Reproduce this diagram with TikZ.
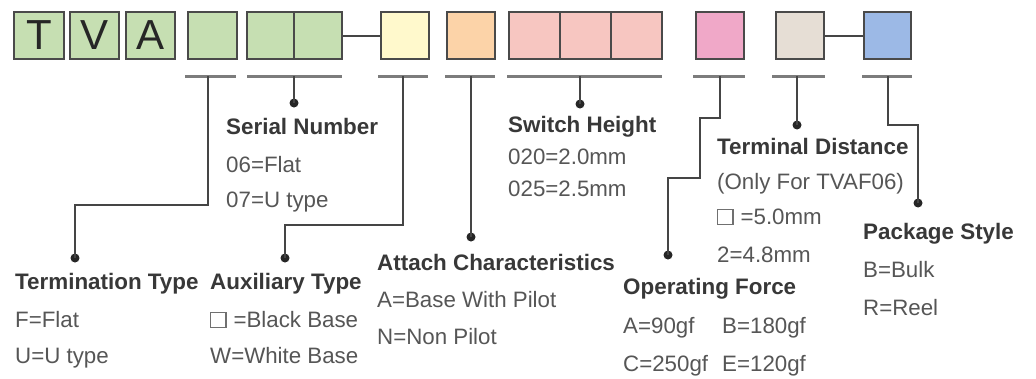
\documentclass[tikz,border=0pt]{standalone}
\usepackage{fontspec}
\setmainfont{Liberation Sans}
\definecolor{cgreen}{HTML}{C6DFB2}
\definecolor{cyellow}{HTML}{FFF9CC}
\definecolor{corange}{HTML}{FCD3A8}
\definecolor{cpink}{HTML}{F7C6C1}
\definecolor{cmagenta}{HTML}{F0A8C8}
\definecolor{cbeige}{HTML}{E6DED5}
\definecolor{cblue}{HTML}{9CB9E6}
\definecolor{edgec}{HTML}{4A4A4A}
\definecolor{barc}{HTML}{7C7C7C}
\definecolor{linec}{HTML}{454545}
\definecolor{headc}{HTML}{383838}
\definecolor{bodyc}{HTML}{565656}
\definecolor{sqgray}{HTML}{707070}
\newcommand\sqbox{\textcolor{sqgray}{\fboxsep=0pt\fboxrule=1.2pt\fbox{\rule{0pt}{14pt}\hspace{14pt}}}}
\tikzset{
  box/.style={draw=edgec, line width=2pt, minimum height=47pt, inner sep=0pt,
    font=\fontsize{42}{44}\selectfont, text=black!85},
  bar/.style={draw=barc, line width=3pt},
  conn/.style={draw=linec, line width=2pt},
  dotc/.style={circle, fill=black!85, minimum size=9pt, inner sep=0pt},
  head/.style={anchor=base west, inner sep=0pt, text=headc, font=\fontsize{22.4}{25}\selectfont\bfseries},
  body/.style={anchor=base west, inner sep=0pt, text=bodyc, font=\fontsize{22.3}{25}\selectfont},
}
\begin{document}
\begin{tikzpicture}[x=1pt, y=-1pt]
\useasboundingbox[fill=white] (0,0) rectangle (1036,378);
% code boxes
\node[box, fill=cgreen, minimum width=50pt] (b1) at (39,35.5) {T};
\node[box, fill=cgreen, minimum width=49pt] (b2) at (94.5,35.5) {V};
\node[box, fill=cgreen, minimum width=49pt] (b3) at (150.5,35.5) {A};
\node[box, fill=cgreen, minimum width=49pt] (b4) at (212.5,35.5) {};
\node[box, fill=cgreen, minimum width=47pt] (b5a) at (270.5,35.5) {};
\node[box, fill=cgreen, minimum width=48pt] (b5b) at (318,35.5) {};
\node[box, fill=cyellow, minimum width=48pt] (b6) at (405,35.5) {};
\node[box, fill=corange, minimum width=48pt] (b7) at (471,35.5) {};
\node[box, fill=cpink, minimum width=51pt] (b8a) at (534.5,35.5) {};
\node[box, fill=cpink, minimum width=51pt] (b8b) at (585.5,35.5) {};
\node[box, fill=cpink, minimum width=51pt] (b8c) at (636.5,35.5) {};
\node[box, fill=cmagenta, minimum width=48pt] (b9) at (720,35.5) {};
\node[box, fill=cbeige, minimum width=48pt] (b10) at (800,35.5) {};
\node[box, fill=cblue, minimum width=47pt] (b11) at (887.5,35.5) {};
\draw[conn] (b5b.east) -- (b6.west);
\draw[conn] (b10.east) -- (b11.west);
% bars
\draw[bar] (185,76) -- (236,76);
\draw[bar] (247,76) -- (342,76);
\draw[bar] (378,76) -- (428,76);
\draw[bar] (445,76) -- (495,76);
\draw[bar] (507,76) -- (662,76);
\draw[bar] (693,76) -- (745,76);
\draw[bar] (772,76) -- (825,76);
\draw[bar] (862,76) -- (912,76);
% tick points
\coordinate (t4) at (208,76);
\coordinate (t5) at (294,76);
\coordinate (t6) at (403,76);
\coordinate (t7) at (471,76);
\coordinate (t8) at (580,76);
\coordinate (t9) at (720,76);
\coordinate (t10) at (797,76);
\coordinate (t11) at (888,76);
% dots
\node[dotc] (d4) at (75,258) {};
\node[dotc] (d5) at (294,103) {};
\node[dotc] (d6) at (285,258) {};
\node[dotc] (d7) at (471,237) {};
\node[dotc] (d8) at (580,104) {};
\node[dotc] (d9) at (668,255) {};
\node[dotc] (d10) at (797,125) {};
\node[dotc] (d11) at (918,203) {};
% connectors
\draw[conn] (t4) -- (208,205) -| (d4.center);
\draw[conn] (t5) -- (d5.center);
\draw[conn] (t6) -- (403,225) -| (d6.center);
\draw[conn] (t7) -- (d7.center);
\draw[conn] (t8) -- (d8.center);
\draw[conn] (t9) -- (720,118) -- (700,118) -- (700,178) -| (d9.center);
\draw[conn] (t10) -- (d10.center);
\draw[conn] (t11) -- (888,125) -| (d11.center);
% texts
\node[head] (sn) at (226,134) {Serial Number};
\node[body] (sn1) at (226,172) {06=Flat};
\node[body] (sn2) at (226,207) {07=U type};
\node[head] (tt) at (15,289) {Termination Type};
\node[body] (tt1) at (15,327) {F=Flat};
\node[body] (tt2) at (15,363) {U=U type};
\node[head] (at) at (210,289) {Auxiliary Type};
\node[body] (at1) at (210,327) {\sqbox\hspace{7pt}=Black Base};
\node[body] (at2) at (210,363) {W=White Base};
\node[head] (ac) at (377,270) {Attach Characteristics};
\node[body] (ac1) at (377,307) {A=Base With Pilot};
\node[body] (ac2) at (377,344) {N=Non Pilot};
\node[head] (sh) at (508,132) {Switch Height};
\node[body] (sh1) at (508,164) {020=2.0mm};
\node[body] (sh2) at (508,196) {025=2.5mm};
\node[head] (td) at (717,154) {Terminal Distance};
\node[body] (td1) at (717,189) {(Only For TVAF06)};
\node[body] (td2) at (717,224) {\sqbox\hspace{7pt}=5.0mm};
\node[body] (td3) at (717,262) {2=4.8mm};
\node[head] (of) at (623,294) {Operating Force};
\node[body] (of1) at (623,333) {A=90gf};
\node[body] (of2) at (722,333) {B=180gf};
\node[body] (of3) at (623,371) {C=250gf};
\node[body] (of4) at (722,371) {E=120gf};
\node[head] (ps) at (863,239) {Package Style};
\node[body] (ps1) at (863,277) {B=Bulk};
\node[body] (ps2) at (863,315) {R=Reel};
\end{tikzpicture}
\end{document}
